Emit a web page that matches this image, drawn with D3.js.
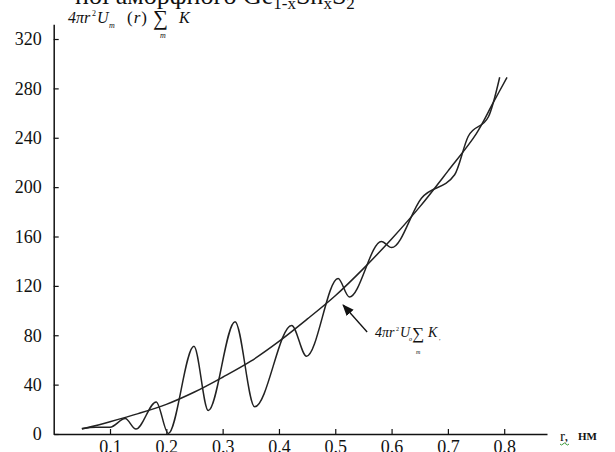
<!DOCTYPE html>
<html><head><meta charset="utf-8">
<script src="https://cdn.jsdelivr.net/npm/d3@7"></script>
<style>body{margin:0;background:#fff}svg{display:block}text{font-family:"Liberation Serif","Times New Roman",serif;fill:#111}</style>
</head><body><svg id="c" width="615" height="452"></svg>
<script>
// tick labels
const xTicks = [0.1,0.2,0.3,0.4,0.5,0.6,0.7,0.8];
const yTicks = [0,40,80,120,160,200,240,280,320];
// smooth curve 4πr²U₀ΣK
const smoothR = [0.05,0.10,0.15,0.20,0.25,0.30,0.35,0.40,0.45,0.50,0.55,0.60,0.65,0.70,0.75,0.78,0.805];
const smoothV = [4,10,16.5,24,34,46,59,75,93,112,134,158,184,213,243,268,289];
// oscillating curve 4πr²Uₘ(r)ΣK
const oscR = [0.05,0.075,0.10,0.127,0.146,0.182,0.2035,0.249,0.2745,0.322,0.357,0.4225,0.449,0.505,0.525,0.582,0.600,0.653,0.712,0.736,0.772,0.792];
const oscV = [4.5,5.5,5.5,12.5,4,26,0.5,71,19,91,22,88,63,126,111,156,151,191,210,241,257,289];
// annotation arrow tip (data coords)
const arrowTip = [0.514,104.5];

const svg = d3.select("#c");
const x = d3.scaleLinear().domain([0,0.876]).range([53.7,547]);
const y = d3.scaleLinear().domain([0,332]).range([434,24.2]);

// title line (cut at top)
const t = svg.append("text").attr("x",75).attr("y",4).attr("font-size",26);
t.append("tspan").text("ної аморфного  Ge");
t.append("tspan").attr("font-size",17).attr("dy",5).text("1-x");
t.append("tspan").attr("dy",-5).text("Sn");
t.append("tspan").attr("font-size",17).attr("dy",5).text("x");
t.append("tspan").attr("dy",-5).text("S");
t.append("tspan").attr("font-size",17).attr("dy",5).text("2");

// axes
const xa = d3.axisBottom(x).tickValues(xTicks).tickSize(-5).tickSizeOuter(0).tickPadding(6).tickFormat(d3.format(".1f"));
const gx = svg.append("g").attr("transform",`translate(0,${y(0)})`).call(xa);
const ya = d3.axisLeft(y).tickValues(yTicks).tickSize(-5).tickSizeOuter(0).tickPadding(12).tickFormat(d3.format("d"));
const gy = svg.append("g").attr("transform",`translate(${x(0)},0)`).call(ya);
[gx,gy].forEach(g=>{
  g.attr("font-family",null).attr("font-size",null);
  g.select(".domain").attr("stroke","#111").attr("stroke-width",1.5);
  g.selectAll(".tick line").attr("stroke","#111").attr("stroke-width",1.2);
  g.selectAll(".tick text").attr("font-size",18).attr("fill","#111");
});

// curves
const line = d3.line().x(d=>x(d[0])).y(d=>y(d[1]));
svg.append("path").datum(smoothR.map((r,i)=>[r,smoothV[i]]))
  .attr("d",line.curve(d3.curveCatmullRom.alpha(0.5))).attr("fill","none").attr("stroke","#222").attr("stroke-width",1.5);
svg.append("path").datum(oscR.map((r,i)=>[r,oscV[i]]))
  .attr("d",line.curve(d3.curveMonotoneX)).attr("fill","none").attr("stroke","#222").attr("stroke-width",1.5);

// y label (pieces placed like an equation)
function piece(txt,px,py,size,italic){
  return svg.append("text").attr("x",px).attr("y",py).attr("font-size",size)
    .attr("font-style",italic?"italic":"normal").text(txt);
}
piece("4πr",68,23,16,true);
piece("2",92,16,8,false);
piece("U",97,23,16,true);
piece("m",109,28,8,true);
const pr = svg.append("text").attr("x",127).attr("y",23).attr("font-size",17);
pr.append("tspan").text("(");
pr.append("tspan").attr("font-style","italic").attr("dx",1).text("r");
pr.append("tspan").attr("dx",1).text(")");
piece("∑",153,25,21,false);
piece("m",160,38,8,true);
piece("K",179,23,16,true);

// annotation
const tip = [x(arrowTip[0]),y(arrowTip[1])];
const tail = [tip[0]+24,tip[1]+27];
svg.append("defs").append("marker").attr("id","ah").attr("viewBox","0 0 10 10").attr("refX",9).attr("refY",5)
  .attr("markerWidth",9).attr("markerHeight",9).attr("orient","auto")
  .append("path").attr("d","M0,1 L10,5 L0,9 Z").attr("fill","#111");
svg.append("line").attr("x1",tail[0]).attr("y1",tail[1]).attr("x2",tip[0]).attr("y2",tip[1])
  .attr("stroke","#111").attr("stroke-width",1.3).attr("marker-end","url(#ah)");
piece("4πr",375,337,14,true);
piece("2",396,331,6,false);
piece("U",400,337,14,true);
piece("o",409,341,6,true);
piece("∑",412,339,17,false);
piece("m",416,354,6,true);
piece("K",428,337,14,true);
piece(",",439,340,6,false);

// x label
piece("r,",560,441,15,false);
svg.append("text").attr("x",578).attr("y",440).attr("font-size",11).attr("font-weight","bold").text("НМ");
svg.append("path").attr("d","M560,444 q1.5,2 3,0 q1.5,-2 3,0 q1.5,2 3,0").attr("fill","none").attr("stroke","#3a9a3a").attr("stroke-width",1);
</script></body></html>
